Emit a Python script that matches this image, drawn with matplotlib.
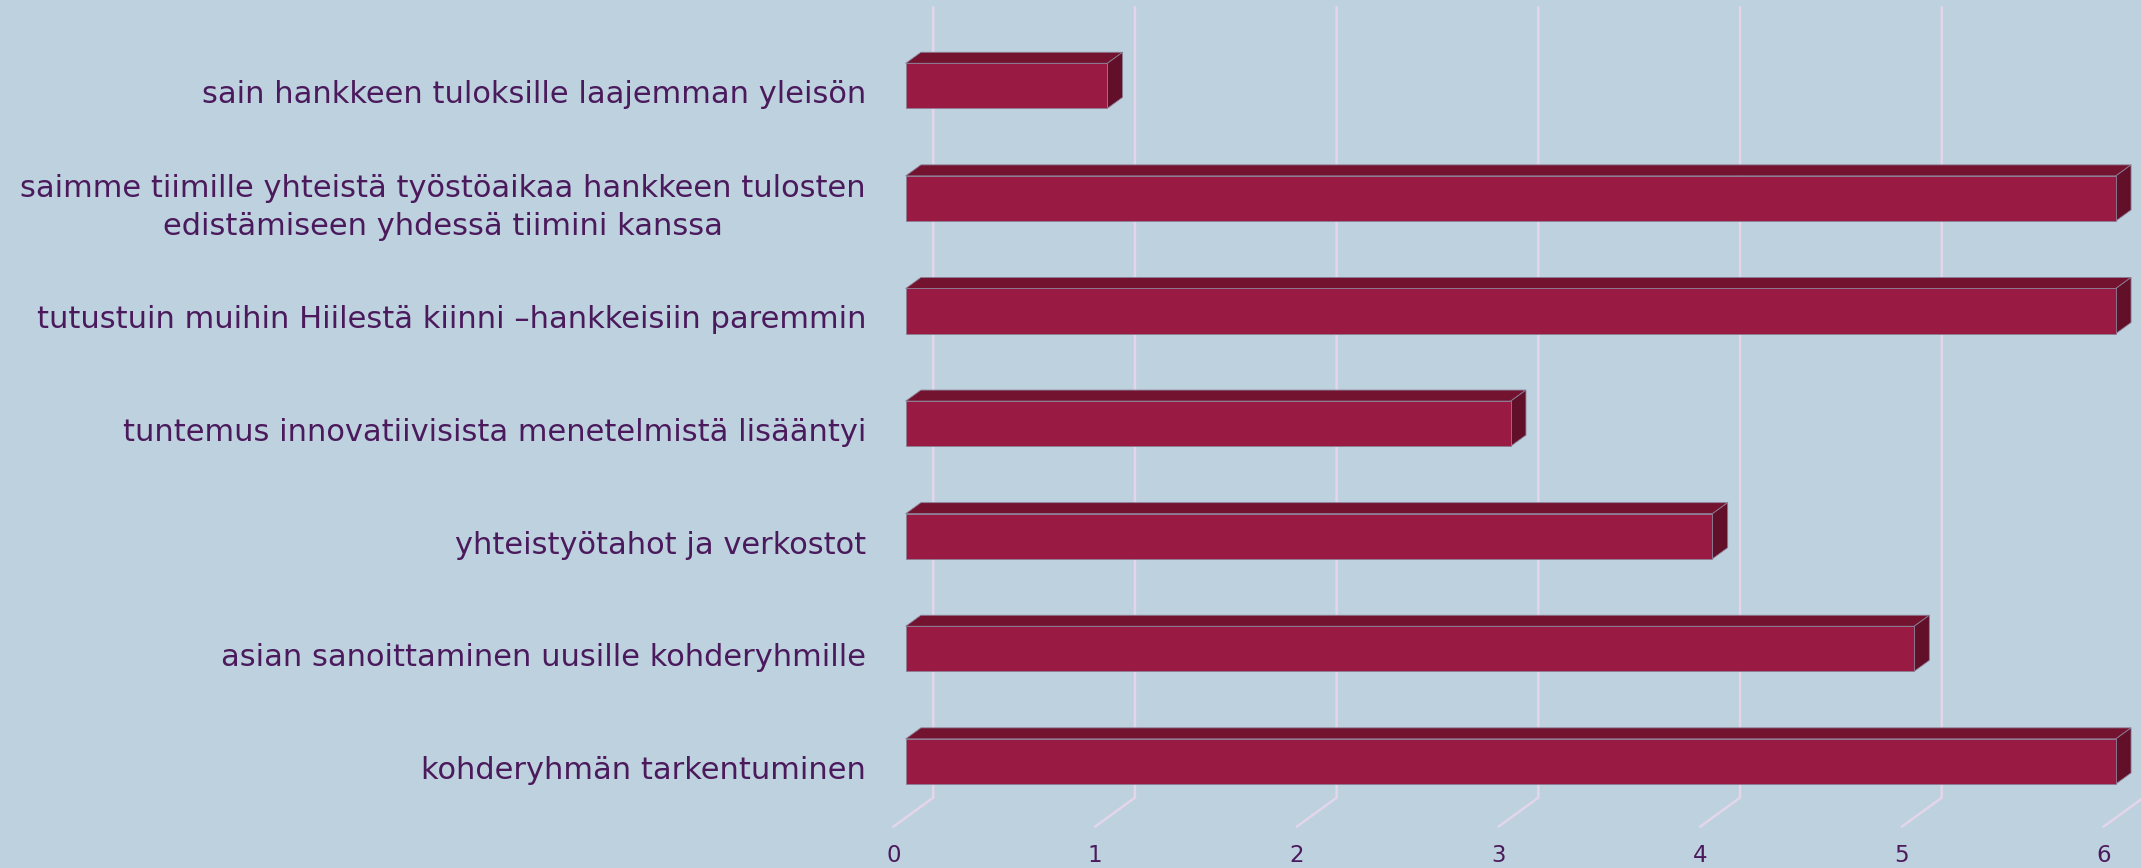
import numpy as np
import matplotlib
matplotlib.use("Agg")
import matplotlib.pyplot as plt
from matplotlib.patches import Polygon

# Data
kategoriat = [
    "sain hankkeen tuloksille laajemman yleisön",
    "saimme tiimille yhteistä työstöaikaa hankkeen tulosten\nedistämiseen yhdessä tiimini kanssa",
    "tutustuin muihin Hiilestä kiinni –hankkeisiin paremmin",
    "tuntemus innovatiivisista menetelmistä lisääntyi",
    "yhteistyötahot ja verkostot",
    "asian sanoittaminen uusille kohderyhmille",
    "kohderyhmän tarkentuminen",
]
arvot = [1, 6, 6, 3, 4, 5, 6]
x_ticks = [0, 1, 2, 3, 4, 5, 6]

# Colours
tausta = "#bdd1de"
etu = "#991a42"
ylä = "#741330"
sivu = "#620f2a"
ruudukko = "#e4d6ea"
teksti = "#4b1a5c"

# 3D projection (depth d in 0..1)
DX = 0.198   # x shift of the full depth, value units
DY = 0.2575  # y shift of the full depth, row units
d0, d1 = 0.31, 0.69
h = 0.2      # half bar height


def proj(v, r, d):
    return (v + d * DX, r - d * DY)


fig = plt.figure(figsize=(21.41, 8.68), dpi=100, facecolor=tausta)
ax = fig.add_axes([0, 0, 1, 1])
ax.set_facecolor(tausta)
ax.set_xlim(-4.429, 6.186)
ax.set_ylim(6.867, -0.842)
ax.axis("off")

# Gridlines: back wall + floor
for v in x_ticks:
    pts = [proj(v, -0.52, 1), proj(v, 6.5, 1), proj(v, 6.5, 0)]
    xs, ys = zip(*pts)
    ax.plot(xs, ys, color=ruudukko, lw=1.8, zorder=1, solid_capstyle="round")
    ax.text(v, 6.76, str(v), ha="center", va="center", fontsize=16.5, color=teksti)

# Bars
for i, (nimi, val) in enumerate(zip(kategoriat, arvot)):
    front = [proj(0, i - h, d0), proj(val, i - h, d0), proj(val, i + h, d0), proj(0, i + h, d0)]
    top = [proj(0, i - h, d0), proj(val, i - h, d0), proj(val, i - h, d1), proj(0, i - h, d1)]
    side = [proj(val, i - h, d0), proj(val, i - h, d1), proj(val, i + h, d1), proj(val, i + h, d0)]
    ax.add_patch(Polygon(top, closed=True, facecolor=ylä, edgecolor="#8c7f95", lw=0.6, zorder=3))
    ax.add_patch(Polygon(side, closed=True, facecolor=sivu, edgecolor="#8c7f95", lw=0.6, zorder=3))
    ax.add_patch(Polygon(front, closed=True, facecolor=etu, edgecolor="#8c7f95", lw=0.6, zorder=4))
    ax.text(-0.135, i, nimi, ha="right", va="center", fontsize=22, color=teksti,
            linespacing=1.4, multialignment="center")

fig.savefig("out.png", dpi=100, facecolor=tausta)
